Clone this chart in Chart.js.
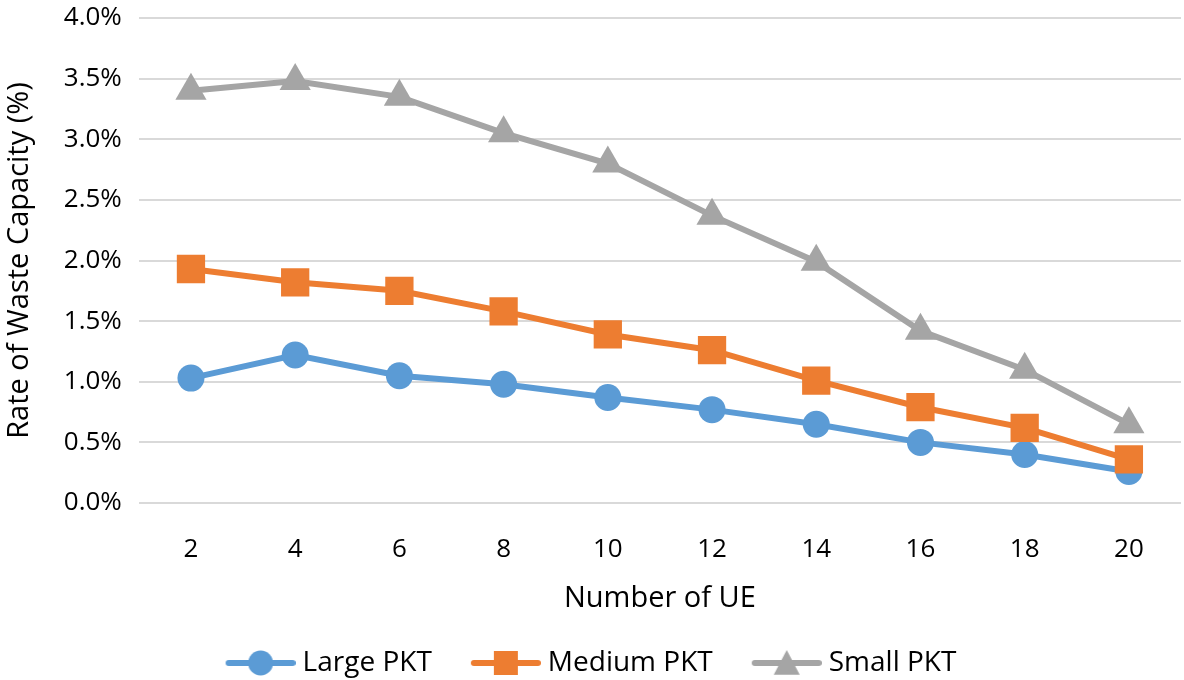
<!DOCTYPE html>
<html>
<head>
<meta charset="utf-8">
<script src="https://cdn.jsdelivr.net/npm/chart.js@4"></script>
<style>
  html, body { margin: 0; padding: 0; background: #fff; }
  #wrap { width: 1184px; height: 680px; }
</style>
</head>
<body>
<div id="wrap"><canvas id="wasteChart" width="1184" height="680"></canvas></div>
<script>
// datos
const ueCounts = ['2', '4', '6', '8', '10', '12', '14', '16', '18', '20'];
const largePkt = [1.03, 1.22, 1.05, 0.98, 0.87, 0.77, 0.65, 0.50, 0.40, 0.26];
const mediumPkt = [1.93, 1.82, 1.75, 1.58, 1.39, 1.26, 1.01, 0.79, 0.62, 0.36];
const smallPkt = [3.40, 3.48, 3.35, 3.05, 2.80, 2.37, 1.99, 1.42, 1.10, 0.65];
const yTicks = [0, 0.5, 1.0, 1.5, 2.0, 2.5, 3.0, 3.5, 4.0];

const FONT = '"Open Sans", "Noto Sans", sans-serif';

// icono de leyenda: línea + marcador (76px de ancho, trazo en x 6..76)
function legendIcon(color, style, r) {
    const c = document.createElement('canvas');
    c.width = 76; c.height = 32;
    const g = c.getContext('2d');
    const cx = 41, cy = 16;
    g.strokeStyle = color;
    g.lineWidth = 6;
    g.lineCap = 'round';
    g.beginPath(); g.moveTo(9, cy); g.lineTo(73, cy); g.stroke();
    g.fillStyle = color;
    g.beginPath();
    if (style === 'circle') {
        g.arc(cx, cy, r, 0, Math.PI * 2);
    } else if (style === 'rect') {
        g.rect(cx - r, cy - r, 2 * r, 2 * r);
    } else {
        g.moveTo(cx, cy - r);
        g.lineTo(cx + r, cy + r * 0.9);
        g.lineTo(cx - r, cy + r * 0.9);
        g.closePath();
    }
    g.fill();
    return c;
}

const icons = [
    legendIcon('#5B9BD5', 'circle', 12.5),
    legendIcon('#ED7D31', 'rect', 12),
    legendIcon('#A5A5A5', 'triangle', 13),
];

const ctx = document.getElementById('wasteChart').getContext('2d');
new Chart(ctx, {
    type: 'line',
    data: {
        labels: ueCounts,
        datasets: [
            {
                label: 'Large PKT',
                data: largePkt,
                borderColor: '#5B9BD5',
                backgroundColor: '#5B9BD5',
                borderWidth: 6,
                pointStyle: 'circle',
                pointRadius: 13.5,
                pointBorderWidth: 0,
                order: 3,
            },
            {
                label: 'Medium PKT',
                data: mediumPkt,
                borderColor: '#ED7D31',
                backgroundColor: '#ED7D31',
                borderWidth: 6,
                pointStyle: 'rect',
                pointRadius: 20,
                pointBorderWidth: 0,
                order: 2,
            },
            {
                label: 'Small PKT',
                data: smallPkt,
                borderColor: '#A5A5A5',
                backgroundColor: '#A5A5A5',
                borderWidth: 6,
                pointStyle: 'triangle',
                pointRadius: 18,
                pointBorderWidth: 0,
                order: 1,
            },
        ]
    },
    options: {
        responsive: false,
        animation: false,
        devicePixelRatio: 1,
        layout: { autoPadding: false, padding: { top: 18, right: 3, left: 2, bottom: -7 } },
        plugins: {
            tooltip: { enabled: false },
            legend: {
                position: 'bottom',
                labels: {
                    usePointStyle: true,
                    pointStyleWidth: 62,
                    padding: 40,
                    color: '#000',
                    font: { family: FONT, size: 28 },
                    generateLabels: (chart) => chart.data.datasets.map((ds, i) => ({
                        text: ds.label,
                        pointStyle: icons[i],
                        fillStyle: ds.borderColor,
                        strokeStyle: ds.borderColor,
                        lineWidth: 0,
                        fontColor: '#000',
                        datasetIndex: i,
                        hidden: false,
                    })),
                }
            }
        },
        scales: {
            x: {
                offset: true,
                grid: { display: false },
                border: { display: false },
                ticks: { color: '#000', font: { family: FONT, size: 26 }, padding: 23 },
                title: { display: true, text: 'Number of UE', color: '#000', font: { family: FONT, size: 29 }, padding: { top: -7, bottom: -7 } }
            },
            y: {
                min: 0,
                max: 4,
                afterBuildTicks: (axis) => { axis.ticks = yTicks.map(v => ({ value: v })); },
                afterFit: (s) => { s.paddingTop = 0; s.paddingBottom = 0; },
                grid: { color: '#D9D9D9', lineWidth: 2, drawTicks: false },
                border: { display: false },
                ticks: { color: '#000', font: { family: FONT, size: 26 }, padding: 17, callback: (val) => val.toFixed(1) + '%' },
                title: { display: true, text: 'Rate of Waste Capacity (%)', color: '#000', font: { family: FONT, size: 29 }, padding: { top: 0, bottom: 10 } }
            }
        }
    }
});
</script>
</body>
</html>
